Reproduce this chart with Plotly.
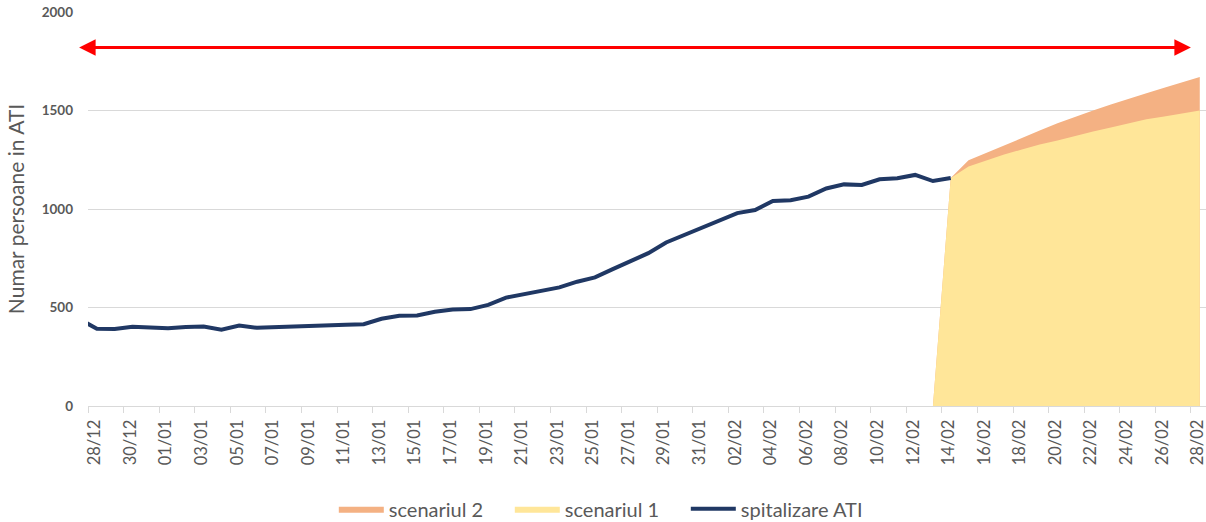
import pandas as pd
import plotly.graph_objects as go

# ---- data ----
line_dates = pd.date_range("2020-12-27", "2021-02-14", freq="D")
icu_values = [442,
              392, 391, 402, 399,
              395, 401, 404, 387, 408, 397, 401, 404, 406, 411,
              413, 415, 443, 458, 460, 478, 490, 492, 513, 550,
              568, 585, 602, 631, 653, 695, 737, 776, 830, 867, 906,
              945, 979, 995, 1041, 1044, 1063, 1104, 1125, 1122, 1151,
              1156, 1173, 1142, 1157]

scen_dates = pd.date_range("2021-02-13", "2021-02-28", freq="D")
scenario1 = [0, 1157, 1216, 1247, 1277, 1302, 1328, 1348, 1373, 1394,
             1414, 1434, 1455, 1470, 1485, 1500]
scenario2 = [0, 1157, 1247, 1285, 1325, 1362, 1398, 1435, 1468, 1500,
             1530, 1560, 1588, 1615, 1643, 1670]

arrow_level = 1820
arrow_start = "2020-12-26 22:00"
arrow_end = "2021-02-27 12:00"

x_range = ["2020-12-27 12:00", "2021-02-28 08:24"]
DAY2 = 2 * 86400000

GRAY_TXT = "#595959"
GRID = "#d9d9d9"
FONT = "Lato"

fig = go.Figure()
fig.add_trace(go.Scatter(x=scen_dates, y=scenario2, name="scenariul 2",
                         mode="lines", line=dict(width=0, color="#F4B183"),
                         fill="tozeroy", fillcolor="#F4B183"))
fig.add_trace(go.Scatter(x=scen_dates, y=scenario1, name="scenariul 1",
                         mode="lines", line=dict(width=0, color="#FFE699"),
                         fill="tozeroy", fillcolor="#FFE699"))
fig.add_trace(go.Scatter(x=line_dates, y=icu_values, name="spitalizare ATI",
                         mode="lines", line=dict(width=4, color="#203864")))
# helper trace so the tick-mark axis is drawn
fig.add_trace(go.Scatter(x=[], y=[], xaxis="x2", showlegend=False, hoverinfo="skip"))

fig.add_annotation(x=arrow_end, y=arrow_level, ax=arrow_start, ay=arrow_level,
                   xref="x", yref="y", axref="x", ayref="y", text="",
                   showarrow=True, arrowside="end+start", arrowhead=2,
                   startarrowhead=2, arrowwidth=3, arrowsize=1.1,
                   startarrowsize=1.1, arrowcolor="#FF0000")

fig.update_layout(
    width=1206, height=522,
    margin=dict(l=88, r=0, t=12, b=116, autoexpand=False),
    paper_bgcolor="white", plot_bgcolor="white",
    font=dict(family=FONT, color=GRAY_TXT),
    showlegend=True,
    legend=dict(orientation="h", x=0.456, xanchor="center", y=-0.261,
                yanchor="middle", font=dict(size=20, color=GRAY_TXT),
                itemwidth=45, entrywidth=116, entrywidthmode="pixels",
                traceorder="normal"),
    xaxis=dict(type="date", range=x_range, tick0="2020-12-28", dtick=DAY2,
               tickformat="%d/%m", tickangle=-90, ticks="",
               tickfont=dict(size=16.5, color=GRAY_TXT, family=FONT),
               ticklabelstandoff=6, ticklabeloverflow="allow",
               ticklabelshift=-2,
               automargin=False,
               showgrid=False, showline=True, linecolor=GRID, linewidth=1,
               zeroline=False),
    xaxis2=dict(type="date", range=x_range, overlaying="x", anchor="y",
                side="bottom", tick0="2020-12-27 12:00", dtick=DAY2,
                ticks="outside", ticklen=6, tickcolor=GRID, tickwidth=1,
                showticklabels=False, showgrid=False, showline=False,
                zeroline=False, automargin=False),
    yaxis=dict(range=[0, 2000], dtick=500, showgrid=True, gridcolor=GRID,
               gridwidth=1, zeroline=False, showline=False, ticks="",
               ticklabelstandoff=14, automargin=False,
               tickfont=dict(size=13.5, color=GRAY_TXT, family=FONT, weight="bold"),
               title=dict(text="Numar persoane in ATI", standoff=11,
                          font=dict(size=21, color=GRAY_TXT, family=FONT))),
)

fig.write_html("out.html", config={"displayModeBar": False},
               post_script="document.body.style.margin='0';document.body.style.overflow='hidden';")
